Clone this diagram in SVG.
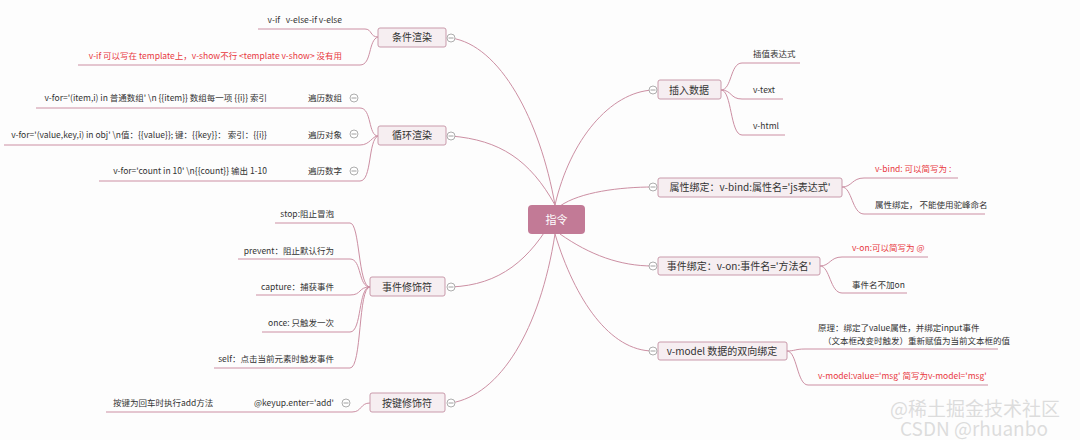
<svg xmlns="http://www.w3.org/2000/svg" width="1080" height="440" viewBox="0 0 1080 440">
<defs><g id="m"><circle class="k" r="4"/><path d="M-2.5,0H2.5" stroke="#888" stroke-width="0.8"/></g></defs>
<style>
.n rect{fill:#f6eef1;stroke:#c99aab;stroke-width:1}
.n text{font:10px "Noto Sans CJK SC","Liberation Sans",sans-serif;fill:#333;text-anchor:middle}
.t{font:8.5px "Noto Sans CJK SC","Liberation Sans",sans-serif;fill:#333}
.r{fill:#e8383d}
.e{text-anchor:end}
#c path{fill:none;stroke:#cc8fa3;stroke-width:1}
.k{fill:#fff;stroke:#999;stroke-width:0.8}
.wm{font:19px "Noto Sans CJK SC",sans-serif;fill:#bbb;fill-opacity:0.5}
</style>
<rect width="1080" height="440" fill="#fdfdfd"/>
<g id="c">
<path d="M555,205 C540,120 500,45 451,38"/>
<path d="M555,205 C530,160 500,140 451,136"/>
<path d="M555,215 C530,260 500,285 451,287"/>
<path d="M555,234 C540,330 500,395 451,403"/>
<path d="M555,205 C570,140 610,92 653,90"/>
<path d="M560,206 C580,192 620,187 653,187"/>
<path d="M560,234 C590,255 620,266 653,266"/>
<path d="M555,234 C575,300 610,351 653,351"/>
<path d="M378,37 C370,37 372,29 365,29 L258,29"/>
<path d="M378,37 C368,40 372,65 360,65 L78,65"/>
<path d="M378,136 C368,136 372,108 360,108 L36,108"/>
<path d="M378,136 C372,136 370,145 360,145 L4,145"/>
<path d="M378,136 C368,140 372,181 360,181 L99,181"/>
<path d="M370,287 C358,287 360,223 350,223 L275,223"/>
<path d="M370,287 C358,287 362,259 350,259 L238,259"/>
<path d="M370,287 C358,287 362,295 350,295 L256,295"/>
<path d="M370,287 C358,287 362,332 350,332 L262,332"/>
<path d="M370,287 C358,287 362,368 350,368 L214,368"/>
<path d="M370,403 C360,403 362,412 352,412 L106,412"/>
<path d="M721,90 C732,90 730,63 742,63 L800,63"/>
<path d="M721,90 C732,90 730,99 742,99 L783,99"/>
<path d="M721,90 C732,90 730,135 742,135 L785,135"/>
<path d="M842,187 C852,187 852,178 864,178 L958,178"/>
<path d="M842,187 C852,187 852,214 864,214 L985,214"/>
<path d="M820,266 C830,266 830,257 842,257 L928,257"/>
<path d="M820,266 C830,266 830,293 842,293 L907,293"/>
<path d="M787,351 C795,351 795,349 805,349 L998,349"/>
<path d="M787,351 C797,351 797,385 808,385 L988,385"/>
</g>
<g id="root"><rect x="528" y="205" width="57" height="29" rx="4" fill="#c27a96"/><text x="556.5" y="224" style="font:11px 'Noto Sans CJK SC',sans-serif;fill:#fff;text-anchor:middle">指令</text></g>
<g id="n1" class="n"><rect x="378" y="28" width="68" height="19" rx="2"/><text x="412" y="41">条件渲染</text><use href="#m" x="451" y="38"/></g>
<g id="n2" class="n"><rect x="378" y="126" width="68" height="19" rx="2"/><text x="412" y="139">循环渲染</text><use href="#m" x="451" y="136"/></g>
<g id="n3" class="n"><rect x="370" y="277" width="75" height="19" rx="2"/><text x="407" y="291">事件修饰符</text><use href="#m" x="451" y="287"/></g>
<g id="n4" class="n"><rect x="370" y="393" width="75" height="19" rx="2"/><text x="407" y="407">按键修饰符</text><use href="#m" x="451" y="403"/></g>
<g id="n5" class="n"><rect x="658" y="80" width="63" height="19" rx="2"/><text x="689" y="94">插入数据</text><use href="#m" x="653" y="90"/></g>
<g id="n6" class="n"><rect x="658" y="178" width="184" height="19" rx="2"/><text x="750" y="191">属性绑定：v-bind:属性名='js表达式'</text><use href="#m" x="653" y="187"/></g>
<g id="n7" class="n"><rect x="658" y="257" width="162" height="18" rx="2"/><text x="739" y="270">事件绑定：v-on:事件名='方法名'</text><use href="#m" x="653" y="266"/></g>
<g id="n8" class="n"><rect x="658" y="342" width="129" height="18" rx="2"/><text x="722" y="355">v-model 数据的双向绑定</text><use href="#m" x="653" y="351"/></g>
<g id="leaves">
<text class="t e" x="342" y="23" xml:space="preserve">v-if   v-else-if v-else</text>
<text class="t e r" x="342" y="59">v-if 可以写在 template上，v-show不行 &lt;template v-show&gt; 没有用</text>
<text class="t e" x="267" y="101">v-for='(item,i) in 普通数组' \n {{item}} 数组每一项 {{i}} 索引</text>
<text class="t e" x="342" y="101">遍历数组</text><use href="#m" x="354" y="98"/>
<text class="t e" x="267" y="138">v-for='(value,key,i) in obj' \n值：{{value}}; 键：{{key}}：  索引：{{i}}</text>
<text class="t e" x="342" y="138">遍历对象</text><use href="#m" x="354" y="134"/>
<text class="t e" x="267" y="174">v-for='count in 10' \n{{count}}  输出 1-10</text>
<text class="t e" x="342" y="174">遍历数字</text><use href="#m" x="354" y="171"/>
<text class="t e" x="334" y="217">stop:阻止冒泡</text>
<text class="t e" x="334" y="254">prevent：阻止默认行为</text>
<text class="t e" x="334" y="290">capture：捕获事件</text>
<text class="t e" x="334" y="326">once: 只触发一次</text>
<text class="t e" x="334" y="362">self：点击当前元素时触发事件</text>
<text class="t e" x="334" y="406">@keyup.enter='add'</text><use href="#m" x="346" y="403"/>
<text class="t" x="113" y="406">按键为回车时执行add方法</text>
<text class="t" x="753" y="57">插值表达式</text>
<text class="t" x="753" y="93">v-text</text>
<text class="t" x="753" y="129">v-html</text>
<text class="t r" x="875" y="172">v-bind: 可以简写为 :</text>
<text class="t" x="875" y="208">属性绑定， 不能使用驼峰命名</text>
<text class="t r" x="852" y="251">v-on:可以简写为 @</text>
<text class="t" x="852" y="288">事件名不加on</text>
<text class="t" x="818" y="331">原理：绑定了value属性，并绑定input事件</text>
<text class="t" x="823" y="344">（文本框改变时触发）重新赋值为当前文本框的值</text>
<text class="t r" x="818" y="379">v-model:value='msg'  简写为v-model='msg'</text>
</g>
<text class="wm" x="890" y="416">@稀土掘金技术社区</text>
<text class="wm" x="900" y="436">CSDN @rhuanbo</text>
</svg>
